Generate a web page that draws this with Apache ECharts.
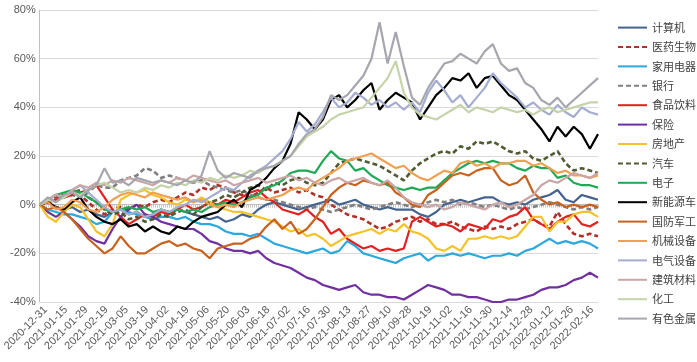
<!DOCTYPE html>
<html>
<head>
<meta charset="utf-8">
<script src="https://cdn.jsdelivr.net/npm/echarts@6/dist/echarts.min.js"></script>
<style>
html,body{margin:0;padding:0;background:#fff;}
#chart{width:697px;height:362px;}
</style>
</head>
<body>
<div id="chart"></div>
<script>
// tick labels of the date axis (every 10 trading days)
const tickLabels = ['2020-12-31','2021-01-15','2021-01-29','2021-02-19','2021-03-05','2021-03-19','2021-04-02','2021-04-19','2021-05-06','2021-05-20','2021-06-03','2021-06-18','2021-07-02','2021-07-16','2021-07-30','2021-08-13','2021-08-27','2021-09-10','2021-09-28','2021-10-19','2021-11-02','2021-11-16','2021-11-30','2021-12-14','2021-12-28','2022-01-12','2022-01-26','2022-02-16'];

const names = ['计算机','医药生物','家用电器','银行','食品饮料','保险','房地产','汽车','电子','新能源车','国防军工','机械设备','电气设备','建筑材料','化工','有色金属'];

// cumulative return (%), one value every 4 trading days
const jisuanji = [0,1,-1,-2,-1,-3,-2,-4,-5,-3,-2,-4,-3,-5,-4,-2,-3,-2,-3,-4,-5,-6,-5,-7,-6,-4,-5,-2,0,1,0,-1,-2,-1,0,1,2,0,1,2,0,-1,-2,-1,-2,-2,-2,-4,-5,-3,0,1,2,1,2,3,3,1,0,1,0,2,3,4,6,2,1,4,3,2];
const yiyao = [0,2,3,4,5,4,1,-2,-4,-2,-1,-2,0,-1,1,2,1,3,5,4,7,6,8,7,5,4,3,5,7,5,6,7,5,6,4,3,0,-2,-4,-5,-6,-8,-10,-9,-7,-6,-5,-7,-6,-8,-8,-7,-9,-10,-11,-9,-10,-9,-10,-8,-7,-6,-8,-9,-3,-8,-12,-13,-12,-13];
const jiadian = [0,-2,-3,-4,-4,-5,-6,-8,-7,-3,-2,-3,-4,-5,-6,-5,-5,-6,-5,-7,-8,-8,-9,-11,-12,-12,-13,-12,-14,-16,-17,-18,-19,-20,-19,-18,-20,-19,-15,-17,-20,-21,-22,-23,-24,-22,-21,-20,-23,-21,-21,-20,-21,-20,-21,-22,-21,-21,-20,-21,-19,-18,-16,-14,-16,-15,-16,-15,-16,-18];
const yinhang = [0,1,2,3,4,3,5,8,7,7,10,11,12,15,14,11,12,11,10,9,10,8,7,6,5,6,4,3,2,2,1,0,-1,-2,-1,-2,-3,-2,-1,0,-1,-2,-1,0,1,0,-1,0,1,2,1,2,0,1,0,-1,0,-1,-2,-1,-2,-1,0,1,0,-1,-2,-1,-2,-1];
const shipin = [0,1,2,3,4,5,6,8,3,-2,-5,-8,-6,-4,-5,-3,-4,-2,0,-2,-1,1,0,2,1,3,5,6,3,1,-2,-3,-4,-2,-5,-7,-12,-10,-14,-16,-18,-17,-19,-18,-19,-18,-7,-5,-7,-9,-8,-9,-11,-8,-9,-10,-6,-7,-5,-4,-1,-6,-8,-10,-7,-5,-4,-8,-9,-7];
const baoxian = [0,-3,-5,-3,-6,-9,-13,-15,-16,-10,-5,-2,0,-4,-5,-7,-8,-9,-10,-10,-12,-15,-16,-18,-19,-19,-20,-19,-22,-24,-25,-26,-28,-30,-31,-33,-34,-35,-34,-33,-36,-37,-37,-38,-38,-39,-37,-35,-33,-34,-35,-37,-37,-38,-38,-39,-40,-40,-39,-39,-38,-37,-35,-34,-34,-33,-31,-30,-28,-30];
const fangdichan = [0,-5,-7,-3,0,-1,-6,-11,-13,-8,2,4,5,6,4,3,1,0,2,1,3,1,-1,-2,-3,-3,-4,-5,-6,-7,-9,-11,-10,-13,-12,-14,-17,-15,-13,-12,-11,-10,-12,-10,-11,-8,-11,-12,-14,-18,-19,-17,-19,-14,-14,-13,-14,-13,-14,-13,-9,-5,-5,-11,-7,-7,-4,-3,-3,-5];
const qiche = [0,2,4,3,5,6,3,1,-2,-4,-3,-6,-5,-7,-6,-4,-5,-3,-2,-4,-1,1,2,4,3,5,7,8,6,9,8,10,11,9,8,9,13,17,18,19,18,17,16,14,12,10,14,17,19,21,22,21,24,23,26,25,26,24,22,21,22,19,18,20,22,17,14,15,14,13];
const dianzi = [0,2,4,5,6,5,3,1,-2,-3,-2,-1,-2,-1,-3,-2,-3,-2,-3,-2,-3,-1,0,1,0,1,3,4,7,8,10,13,14,14,13,18,22,19,18,14,15,12,10,8,7,6,7,6,7,7,10,13,15,17,18,17,18,17,17,15,14,16,15,15,11,12,9,8,8,7];
const xinnengyuan = [0,1,-1,-2,1,3,-2,-5,-7,-8,-6,-9,-8,-11,-9,-11,-12,-9,-10,-7,-5,-4,-3,0,2,-1,6,8,11,15,18,25,38,35,31,35,43,45,40,43,47,50,39,43,46,44,42,35,40,45,48,52,51,54,48,52,53,49,45,43,39,35,31,26,32,28,32,29,23,29];
const guofang = [0,-2,-1,-3,-6,-10,-14,-17,-20,-18,-13,-17,-20,-20,-18,-16,-15,-17,-16,-18,-19,-22,-18,-17,-16,-16,-14,-13,-9,-6,-10,-7,-12,-10,-6,-1,4,7,9,8,10,9,8,9,5,3,0,-1,4,6,9,12,13,12,14,15,15,10,8,9,12,5,2,0,1,-1,0,-1,0,-1];
const jixie = [0,1,-2,-1,2,1,-2,-3,-1,2,4,5,4,3,5,4,3,2,3,1,2,0,-1,0,-1,1,2,3,2,3,4,6,7,6,9,11,13,15,18,19,20,21,19,17,15,16,13,11,10,12,14,13,17,18,16,17,15,17,17,18,18,16,17,15,13,14,12,12,11,12];
const dianqi = [0,2,4,3,6,8,5,2,-1,-3,-2,-4,-3,-5,-4,-2,-3,-1,0,2,1,3,5,7,6,9,12,14,16,19,22,27,34,30,33,38,44,40,42,46,44,41,43,40,42,39,42,38,46,51,47,42,45,40,44,48,54,50,47,44,40,42,39,37,41,38,36,40,38,37];
const jiancai = [0,2,4,3,6,8,7,9,8,10,9,11,10,9,8,10,9,11,10,12,11,10,9,10,8,9,10,11,9,10,11,12,10,11,9,8,10,11,9,10,11,9,8,10,7,3,1,0,-1,0,-2,-1,1,0,-1,-2,0,1,-1,0,2,4,8,10,9,11,13,12,11,13];
const huagong = [0,2,1,3,5,4,6,8,9,7,5,6,5,7,6,8,7,9,8,10,9,11,10,12,11,12,14,13,15,16,18,20,24,28,30,32,35,37,38,39,40,44,48,52,59,46,40,37,36,35,37,39,41,38,40,39,38,40,39,38,39,37,39,40,38,39,40,41,42,42];
const youse = [0,3,1,4,5,3,6,8,15,9,10,8,11,10,9,10,9,8,10,9,12,22,14,11,13,12,11,14,15,16,18,20,25,29,31,36,45,43,45,49,53,60,75,58,71,57,44,41,48,53,58,59,62,60,58,63,66,58,55,56,50,48,43,41,44,40,43,46,49,52];

const seriesValues = [jisuanji, yiyao, jiadian, yinhang, shipin, baoxian, fangdichan, qiche, dianzi, xinnengyuan, guofang, jixie, dianqi, jiancai, huagong, youse];
const colors = ['#44648F','#B0302A','#2BA8DE','#7F7F7F','#E42020','#7030A0','#F5C22A','#4F5B30','#1FA855','#000000','#C8621E','#F0A050','#A4ADCF','#CBA6A6','#C5D3A9','#A6A6AE'];
const dashed = {'医药生物':true,'银行':true,'汽车':true};

const STEP = 4; // trading days between samples
const LAST = (youse.length - 1) * STEP;

const series = names.map((n, k) => ({
  name: n,
  type: 'line',
  xAxisIndex: 0,
  showSymbol: false,
  smooth: false,
  z: 2 + k,
  lineStyle: {
    color: colors[k],
    width: dashed[n] ? 2.6 : 2.2,
    type: dashed[n] ? [5, 3] : 'solid'
  },
  itemStyle: {color: colors[k]},
  data: seriesValues[k].map((v, i) => [i * STEP, v])
}));

const chart = echarts.init(document.getElementById('chart'), null, {renderer: 'canvas'});
chart.setOption({
  animation: false,
  backgroundColor: '#fff',
  textStyle: {fontFamily: '"Liberation Sans", "Noto Sans CJK SC", sans-serif'},
  grid: {left: 33, right: 99, top: 10, bottom: 60, containLabel: false},
  legend: {
    orient: 'vertical',
    left: 612,
    top: 16,
    itemWidth: 29,
    itemHeight: 14,
    itemGap: 6.2,
    itemStyle: {opacity: 0},
    textStyle: {fontSize: 11, color: '#404040', fontFamily: '"Noto Sans CJK SC", sans-serif'},
    data: names
  },
  xAxis: [
    {
      type: 'value', min: 0, max: LAST, interval: 1, position: 'top',
      axisLine: {show: true, onZero: true, lineStyle: {color: '#BFBFBF', width: 1}},
      axisTick: {show: true, inside: true, length: 3, lineStyle: {color: '#C8C8C8'}},
      axisLabel: {show: false},
      splitLine: {show: false}
    },
    {
      type: 'value', min: -3, max: LAST - 3, position: 'bottom',
      axisLine: {show: false, onZero: false},
      axisTick: {show: false},
      splitLine: {show: false},
      axisLabel: {
        show: true, rotate: 45, fontSize: 11, color: '#595959', margin: 6,
        customValues: tickLabels.map((_, i) => i * 10),
        formatter: v => tickLabels[Math.round(v / 10)] || ''
      }
    }
  ],
  yAxis: {
    type: 'value', min: -40, max: 80, interval: 20,
    axisLine: {show: true, lineStyle: {color: '#BFBFBF'}},
    axisTick: {show: false},
    axisLabel: {formatter: '{value}%', fontSize: 11, color: '#595959', margin: 4},
    splitLine: {lineStyle: {color: '#D9D9D9', width: 1}}
  },
  series: series
});
</script>
</body>
</html>
